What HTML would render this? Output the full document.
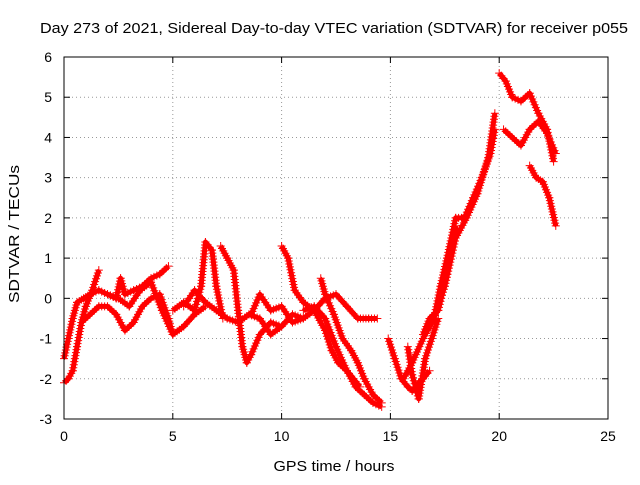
<!DOCTYPE html>
<html><head><meta charset="utf-8"><style>
body{margin:0;background:#fff;}
svg text{font-family:"Liberation Sans",sans-serif;font-size:14px;fill:#000;}
</style></head><body>
<svg id="c" width="640" height="480">
<text x="334" y="33" text-anchor="middle" textLength="588" lengthAdjust="spacingAndGlyphs" style="font-size:15px">Day 273 of 2021, Sidereal Day-to-day VTEC variation (SDTVAR) for receiver p055</text>
<text x="334" y="471" text-anchor="middle" textLength="121" lengthAdjust="spacingAndGlyphs" style="font-size:15px">GPS time / hours</text>
<text transform="translate(19,234) rotate(-90)" text-anchor="middle" textLength="138" lengthAdjust="spacingAndGlyphs" style="font-size:15px">SDTVAR / TECUs</text>
<g id="grid"></g><g id="marks"></g>
<rect x="64" y="57" width="544" height="362" fill="none" stroke="#000"/>
</svg>
<script>
const xTicks=[0,5,10,15,20,25];
const yTicks=[-3,-2,-1,0,1,2,3,4,5,6];
const tracksX=[
[0,0.2,0.4,0.6,0.8,1.0,1.3,1.6],
[0,0.2,0.4,0.6,0.9,1.2,1.6,2.0,2.4,2.6,2.8,3.2,3.6,4.0,4.4,4.8],
[0.8,1.2,1.6,2.0,2.4,2.8,3.2,3.6,4.0,4.4,4.8,5.0],
[2.0,2.5,3.0,3.5,4.0,4.5,5.0,5.5,6.0,6.5],
[5,5.5,6,6.3,6.5,6.8,7.0,7.3],
[5.5,6,6.5,7,7.5,8,8.5,9,9.5,10,10.5,11],
[7.2,7.5,7.8,8.0,8.2,8.4,8.6,9,9.5,10],
[8.6,9,9.5,10,10.5,11,11.5,12],
[10,10.3,10.6,11,11.5,12,12.3,12.6,13,13.4,13.8,14.2,14.6],
[11.8,12,12.4,12.8,13.2,13.5,13.8,14.2,14.6],
[12,12.5,13,13.5,14.0,14.4],
[11,11.5,12,12.5,13,13.3,13.6],
[14.9,15.2,15.5,15.8,16.0,16.3,16.5,16.8],
[15.8,16,16.3,16.6,16.9,17.2],
[15.6,16,16.5,17,17.5,18,18.5,19,19.5,19.8],
[16.5,17,17.3,17.6,18,18.4,18.8,19.2,19.6,19.8],
[20,20.3,20.6,21,21.4,21.8,22.2,22.5],
[20.2,20.6,21,21.4,21.8,22.2,22.6],
[21.4,21.7,22,22.3,22.6],
[16.5,16.8,17.2,17.6,18]
];
const tracksY=[
[-2.1,-2.0,-1.8,-1.2,-0.6,-0.2,0.2,0.7],
[-1.5,-1.0,-0.5,-0.1,0.0,0.1,0.2,0.1,0.0,0.5,0.1,0.2,0.3,0.5,0.6,0.8],
[-0.6,-0.4,-0.2,-0.2,-0.4,-0.8,-0.6,-0.2,0.0,0.1,-0.5,-0.9],
[0.1,0.0,-0.2,0.2,0.4,-0.3,-0.9,-0.7,-0.4,-0.2],
[-0.3,-0.1,-0.3,0.3,1.4,1.2,0.3,-0.5],
[-0.2,0.2,-0.1,-0.3,-0.5,-0.6,-0.4,-0.5,-0.9,-0.7,-0.4,-0.5],
[1.3,1.0,0.7,-0.3,-1.2,-1.6,-1.4,-0.9,-0.6,-0.7],
[-0.4,0.1,-0.3,-0.2,-0.6,-0.5,-0.3,0.0],
[1.3,1.0,0.2,-0.1,-0.3,-0.8,-1.3,-1.6,-1.8,-2.2,-2.4,-2.6,-2.7],
[0.5,0.1,-0.4,-1.0,-1.3,-1.6,-2.0,-2.4,-2.6],
[0.0,0.1,-0.2,-0.5,-0.5,-0.5],
[-0.3,-0.2,-0.5,-1.2,-1.8,-2.0,-2.2],
[-1.0,-1.5,-2.0,-2.2,-2.3,-2.1,-2.0,-1.8],
[-1.2,-1.9,-2.5,-1.5,-1.0,-0.5],
[-2.0,-1.6,-1.0,-0.5,0.3,1.5,2.0,2.6,3.5,4.6],
[-1.0,-0.5,0.3,1.0,2.0,2.0,2.5,3.0,3.6,4.2],
[5.6,5.4,5.0,4.9,5.1,4.6,4.2,3.4],
[4.2,4.0,3.8,4.2,4.4,4.1,3.6],
[3.3,3.0,2.9,2.5,1.8],
[-0.9,-0.5,-0.3,0.6,1.8]
];
const X0=64,X1=608,Y0=419,Y1=57;
const sx=v=>X0+(v-0)/(25-0)*(X1-X0);
const sy=v=>Y0-(v+3)/(6+3)*(Y0-Y1);
const NS="http://www.w3.org/2000/svg";
const grid=document.getElementById('grid'),marks=document.getElementById('marks');
function mk(t,a,p){const e=document.createElementNS(NS,t);for(const k in a)e.setAttribute(k,a[k]);p.appendChild(e);return e;}
xTicks.forEach(t=>{const x=sx(t);
 if(t>0&&t<25){const g=mk('line',{x1:x,x2:x,y1:Y0,y2:Y1,stroke:'#999','stroke-dasharray':'1,3'},grid);
 
 }
 mk('line',{x1:x,x2:x,y1:Y0,y2:Y0-6,stroke:'#000'},grid);mk('line',{x1:x,x2:x,y1:Y1,y2:Y1+6,stroke:'#000'},grid);
 const l=mk('text',{x:x,y:Y0+22,'text-anchor':'middle'},grid);l.textContent=t;
 
 });
yTicks.forEach(t=>{const y=sy(t);
 if(t>-3&&t<6){const g=mk('line',{x1:X0,x2:X1,y1:y,y2:y,stroke:'#999','stroke-dasharray':'1,3'},grid);
 
 }
 mk('line',{x1:X0,x2:X0+6,y1:y,y2:y,stroke:'#000'},grid);mk('line',{x1:X1,x2:X1-6,y1:y,y2:y,stroke:'#000'},grid);
 const l=mk('text',{x:X0-12,y:y+5,'text-anchor':'end'},grid);l.textContent=t;
 
 });
tracksX.forEach((xs,i)=>{const ys=tracksY[i];
 const g=mk('g',{},marks);
 
 
 const pts=xs.map((x,j)=>sx(x)+','+sy(ys[j])).join(' ');
 mk('polyline',{points:pts,fill:'none',stroke:'#f00','stroke-width':5,'stroke-linejoin':'round'},g);
 for(let j=0;j<xs.length-1;j++){
  const ax=sx(xs[j]),ay=sy(ys[j]),bx=sx(xs[j+1]),by=sy(ys[j+1]);
  const n=Math.max(1,Math.round(Math.hypot(bx-ax,by-ay)/3));
  for(let k=0;k<=n;k++){const px=ax+(bx-ax)*k/n,py=ay+(by-ay)*k/n;
   mk('path',{d:`M${px-4} ${py}H${px+4}M${px} ${py-4}V${py+4}`,stroke:'#f00','stroke-width':1},g);}
 }
});
</script>
</body></html>
